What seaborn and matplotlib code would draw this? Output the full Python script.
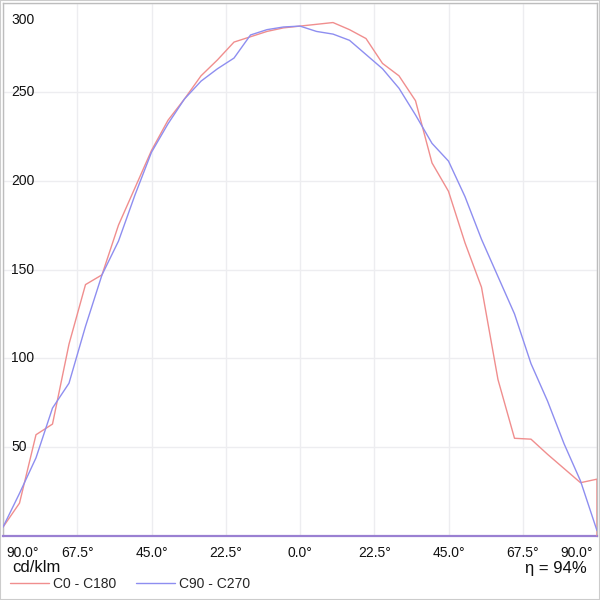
import matplotlib
matplotlib.use("Agg")
import matplotlib.pyplot as plt
import matplotlib.transforms as mtransforms
import seaborn as sns
import pandas as pd

# ---- data ----
angles_c0 = [-90, -85, -80, -75, -70, -65, -60, -55, -50, -45, -40, -35, -30, -25, -20, -15, -10, -5,
             0, 5, 10, 15, 20, 25, 30, 35, 40, 45, 50, 55, 60, 65, 70, 75, 80, 85, 90, 90]
values_c0 = [5, 18.5, 57, 63, 108, 141.5, 147, 175, 196, 217, 234, 246, 259, 268, 278, 281, 284, 286,
             287, 288, 289, 285, 280, 266, 259, 245, 210, 194, 165, 140, 88, 55, 54.5, 46, 38, 30, 32, 0]
angles_c90 = [-90, -85, -80, -75, -70, -65, -60, -55, -50, -45, -40, -35, -30, -25, -20, -15, -10, -5,
              0, 5, 10, 15, 20, 25, 30, 35, 40, 45, 50, 55, 60, 65, 70, 75, 80, 85, 90]
values_c90 = [5, 24, 44, 72, 86, 118, 147, 166, 192, 216, 232, 246, 256, 263, 269, 282, 285, 286.5,
              287, 284, 282.5, 279, 271, 263, 252, 237, 221, 211, 191, 167, 146, 125, 97, 76, 52, 31, 3]
series_names = ["C0 - C180", "C90 - C270"]
series_colors = ["#f08e8e", "#8e8ef0"]
x_ticks = [-90, -67.5, -45, -22.5, 0, 22.5, 45, 67.5, 90]
x_tick_labels = ["90.0°", "67.5°", "45.0°", "22.5°", "0.0°", "22.5°", "45.0°", "67.5°", "90.0°"]
y_ticks = [50, 100, 150, 200, 250, 300]
y_tick_labels = ["50", "100", "150", "200", "250", "300"]
unit_label = "cd/klm"
efficiency_label = "η = 94%"

df = pd.concat([
    pd.DataFrame({"angle": angles_c0, "value": values_c0, "series": series_names[0],
                  "order": range(len(angles_c0))}),
    pd.DataFrame({"angle": angles_c90, "value": values_c90, "series": series_names[1],
                  "order": range(len(angles_c90))}),
], ignore_index=True)

sns.set_style("white")
plt.rcParams["font.family"] = ["Liberation Sans", "DejaVu Sans"]

fig = plt.figure(figsize=(6, 6), dpi=100)
ax = fig.add_axes([3 / 600, 64 / 600, 594 / 600, 533 / 600])

sns.lineplot(data=df, x="angle", y="value", hue="series", palette=series_colors,
             estimator=None, sort=False, units="series", linewidth=1, ax=ax, legend=False,
             zorder=3)

ax.set_xlim(-90, 90)
ax.set_ylim(0, 300)
ax.set_xlabel("")
ax.set_ylabel("")

ax.set_xticks(x_ticks)
ax.set_xticklabels(x_tick_labels, fontsize=10, color="#111111")
ax.set_yticks(y_ticks)
ax.set_yticklabels([])
ax.tick_params(axis="both", length=0)
ax.tick_params(axis="x", pad=7)
xl = ax.get_xticklabels()
xl[0].set_horizontalalignment("left")
xl[-1].set_horizontalalignment("right")
off_l = mtransforms.ScaledTranslation(3 / 100, 0, fig.dpi_scale_trans)
off_r = mtransforms.ScaledTranslation(-4 / 100, 0, fig.dpi_scale_trans)
xl[0].set_transform(xl[0].get_transform() + off_l)
xl[-1].set_transform(xl[-1].get_transform() + off_r)

ax.grid(True, color="#ededf0", linewidth=1)
ax.set_axisbelow(True)

# y labels inside the plot
blend = mtransforms.blended_transform_factory(ax.transAxes, ax.transData)
for yv, lab in zip(y_ticks, y_tick_labels):
    t = ax.text(8 / 594, yv, lab, transform=blend, ha="left", va="center",
                fontsize=10, color="#111111", zorder=4)
    if yv == y_ticks[-1]:
        t.set_transform(blend + mtransforms.ScaledTranslation(0, -17 / 100, fig.dpi_scale_trans))

for side in ["left", "right", "top"]:
    ax.spines[side].set_color("#bdbdbd")
    ax.spines[side].set_linewidth(1)
ax.spines["bottom"].set_color("#9a80d2")
ax.spines["bottom"].set_linewidth(1.6)

fig.text(12 / 600, 1 - 568 / 600, unit_label, fontsize=12, ha="left", va="center", color="#111111")
fig.text(587 / 600, 1 - 568 / 600, efficiency_label, fontsize=12, ha="right", va="center", color="#111111")

handles = [plt.Line2D([], [], color=c, linewidth=1) for c in series_colors]
fig.legend(handles, series_names, loc="upper left", bbox_to_anchor=(10 / 600, 1 - 577 / 600),
           ncol=2, frameon=False, fontsize=10, handlelength=2.8, handletextpad=0.3,
           columnspacing=1.4, borderpad=0, borderaxespad=0)

fig.patches.append(plt.Rectangle((0, 0), 1, 1, transform=fig.transFigure, fill=False,
                                 edgecolor="#cccccc", linewidth=1.5))

fig.savefig("out.png", dpi=100)
